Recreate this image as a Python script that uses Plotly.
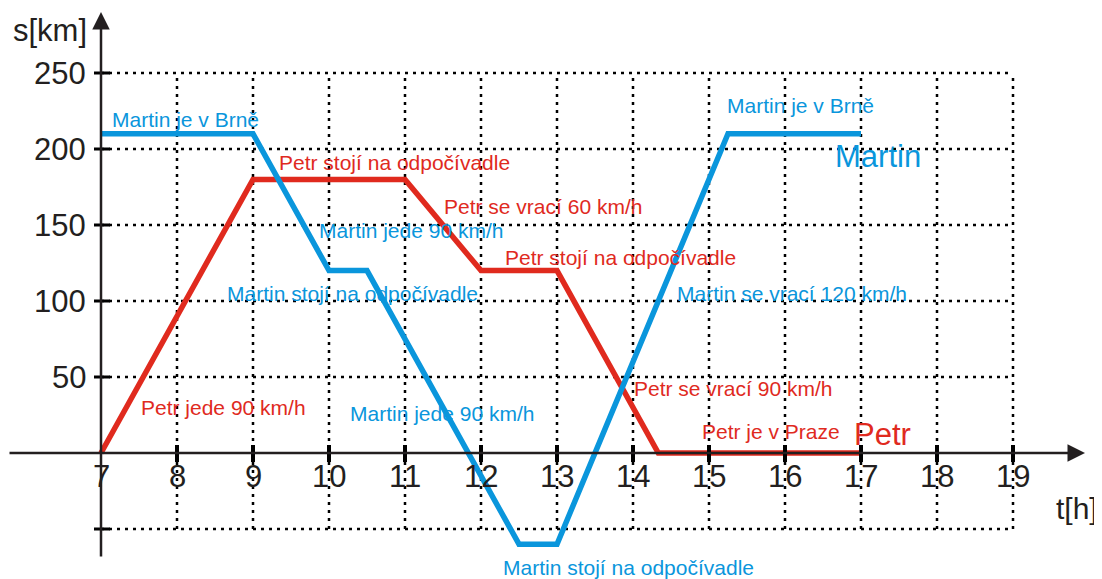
import plotly.graph_objects as go

# ---- data ----
martin_t = [7, 9, 10, 10.5, 12.5, 13, 15.25, 17]
martin_s = [210, 210, 120, 120, -60, -60, 210, 210]
petr_t = [7, 9, 11, 12, 13, 14.333, 17]
petr_s = [0, 180, 180, 120, 120, 0, 0]

x_ticks = list(range(7, 20))
y_ticks = [50, 100, 150, 200, 250]
y_neg_tick = -50

RED = "#E02A1E"
BLUE = "#0A96DC"
FONT = "Arial, Liberation Sans, sans-serif"

# labels: (text, t, s, colour, size)
labels = [
    ("Martin je v Brně", 7.118, 219.1, BLUE, 21),
    ("Petr stojí na odpočívadle", 9.316, 191.1, RED, 21),
    ("Petr se vrací 60 km/h", 11.487, 162.1, RED, 21),
    ("Martin jede 90 km/h", 9.842, 146.7, BLUE, 21),
    ("Petr stojí na odpočívadle", 12.289, 128.9, RED, 21),
    ("Martin stojí na odpočívadle", 8.632, 105.1, BLUE, 21),
    ("Martin se vrací 120 km/h", 14.553, 105.1, BLUE, 21),
    ("Petr se vrací 90 km/h", 13.987, 42.6, RED, 21),
    ("Petr je v Praze", 14.882, 14.0, RED, 21),
    ("Petr", 16.882, 12.5, RED, 31),
    ("Martin", 16.632, 194.9, BLUE, 31),
    ("Martin je v Brně", 15.211, 228.4, BLUE, 21),
    ("Petr jede 90 km/h", 7.5, 29.9, RED, 21),
    ("Martin jede 90 km/h", 10.25, 25.7, BLUE, 21),
    ("Martin stojí na odpočívadle", 12.263, -75.0, BLUE, 21),
]

# page body has an 8px margin: shift the drawing so it lands where the reference has it
OFF = 8
X0, X1 = 7, 19
Y0, Y1 = -50, 250
px_x = 76.0          # pixels per hour
px_y = 76.0 / 50.0   # pixels per km
W, H = 1102 - OFF, 579 - OFF
ox, oy = 101 - OFF, 453 - OFF
x_range = [X0 - ox / px_x, X0 + (W - ox) / px_x]
y_range = [-(H - oy) / px_y, oy / px_y]

fig = go.Figure()

shapes = []
grid_line = dict(color="black", width=2.5, dash="3px,5px")
for t in x_ticks[1:]:
    shapes.append(dict(type="line", xref="x", yref="y", x0=t, x1=t, y0=Y0, y1=Y1,
                       line=grid_line, layer="below"))
for s in y_ticks + [y_neg_tick]:
    shapes.append(dict(type="line", xref="x", yref="y", x0=X0, x1=X1, y0=s, y1=s,
                       line=grid_line, layer="below"))
# tick marks
for s in y_ticks + [y_neg_tick]:
    shapes.append(dict(type="line", xref="x", yref="y", x0=X0 - 7 / px_x, x1=X0 + 9 / px_x,
                       y0=s, y1=s, line=dict(color="black", width=3)))
for t in x_ticks[1:]:
    shapes.append(dict(type="line", xref="x", yref="y", x0=t, x1=t,
                       y0=8 / px_y, y1=-9 / px_y, line=dict(color="black", width=4)))

annotations = []
# axes with arrows
annotations.append(dict(x=X0 + 984 / px_x, y=0, ax=x_range[0], ay=0, axref="x", ayref="y",
                        xref="x", yref="y", text="", showarrow=True, arrowhead=2,
                        arrowsize=1.4, arrowwidth=2.5, arrowcolor="#231F20", standoff=0))
annotations.append(dict(x=X0, y=441 / px_y, ax=X0, ay=-105 / px_y, axref="x", ayref="y",
                        xref="x", yref="y", text="", showarrow=True, arrowhead=2,
                        arrowsize=1.4, arrowwidth=2.5, arrowcolor="#231F20", standoff=0))

tick_font = dict(family=FONT, size=31, color="#231F20")
for t in x_ticks:
    annotations.append(dict(x=t, y=-23 / px_y, text=str(t), showarrow=False,
                            xanchor="center", yanchor="middle", font=tick_font))
for s in y_ticks:
    annotations.append(dict(x=X0 - 13 / px_x, y=s, text=str(s), showarrow=False,
                            xanchor="right", yanchor="middle", font=tick_font))
annotations.append(dict(x=X0 - 12 / px_x, y=423 / px_y, text="s[km]", showarrow=False,
                        xanchor="right", yanchor="middle", font=tick_font))
annotations.append(dict(x=X0 + 999 / px_x, y=-55 / px_y, text="t[h]", showarrow=False,
                        xanchor="right", yanchor="middle",
                        font=dict(family=FONT, size=30, color="#231F20")))

for text, t, s, col, size in labels:
    annotations.append(dict(x=t, y=s, text=text, showarrow=False, xanchor="left",
                            yanchor="middle", font=dict(family=FONT, size=size, color=col)))

fig.add_trace(go.Scatter(x=petr_t, y=petr_s, mode="lines", name="Petr",
                         line=dict(color=RED, width=5.5), hoverinfo="skip"))
fig.add_trace(go.Scatter(x=martin_t, y=martin_s, mode="lines", name="Martin",
                         line=dict(color=BLUE, width=5.5), hoverinfo="skip"))

fig.update_layout(
    width=W, height=H, margin=dict(l=0, r=0, t=0, b=0),
    paper_bgcolor="white", plot_bgcolor="white", showlegend=False,
    xaxis=dict(range=x_range, visible=False, fixedrange=True),
    yaxis=dict(range=y_range, visible=False, fixedrange=True),
    shapes=shapes, annotations=annotations,
)

fig.write_html("out.html")
